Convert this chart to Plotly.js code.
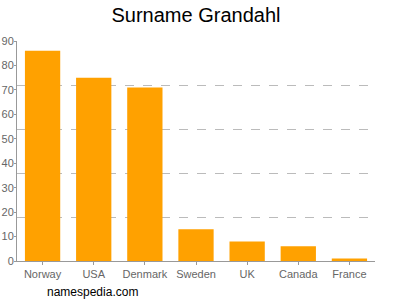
<!DOCTYPE html>
<html><head><meta charset="utf-8">
<script src="https://cdn.plot.ly/plotly-3.0.1.min.js"></script>
<style>body{margin:0;background:#fff}#c{width:400px;height:300px}</style>
</head><body><div id="c"></div>
<script>
const countries = ["Norway","USA","Denmark","Sweden","UK","Canada","France"];
const counts = [86, 75, 71, 13, 8, 6, 1];
const yTicks = [0,10,20,30,40,50,60,70,80,90];
const gridTicks = [18,36,54,72,90];

const traces = [
  {type:'bar', x:countries, y:counts, marker:{color:'#ffa100'}, hoverinfo:'none'},
  {type:'scatter', x:countries, y:counts, yaxis:'y2', mode:'none', hoverinfo:'none', showlegend:false}
];
const layout = {
  width:400, height:300,
  margin:{l:17, r:25, t:41, b:39},
  paper_bgcolor:'#fff', plot_bgcolor:'#fff',
  showlegend:false, bargap:0.31,
  title:{text:'Surname Grandahl', font:{family:'Liberation Sans, Arial, sans-serif', size:20, color:'#000'}, x:0.5, xref:'paper', xanchor:'center', y:0.95, yanchor:'middle'},
  xaxis:{showgrid:false, showline:true, linecolor:'#999', linewidth:1, ticks:'outside', ticklen:3, tickcolor:'#999',
    tickfont:{family:'Liberation Sans, Arial, sans-serif', size:11, color:'#666'}, fixedrange:true},
  yaxis:{range:[0,90], tickvals:yTicks, ticktext:yTicks.map(String), showgrid:false, zeroline:false, showline:true, linecolor:'#999', linewidth:1,
    ticks:'outside', ticklen:2, tickcolor:'#999', ticklabelstandoff:-2, tickfont:{family:'Liberation Sans, Arial, sans-serif', size:11, color:'#666'}, fixedrange:true},
  yaxis2:{range:[0,90], overlaying:'y', tickvals:gridTicks, showticklabels:false, showgrid:true, gridcolor:'#bbb', griddash:'dash', gridwidth:1, zeroline:false, showline:false, ticks:'', fixedrange:true},
  annotations:[{text:'namespedia.com', xref:'paper', yref:'paper', x:0, y:-0.14, xshift:28, showarrow:false, xanchor:'left', yanchor:'middle',
    font:{family:'Liberation Sans, Arial, sans-serif', size:12, color:'#000'}}]
};
Plotly.newPlot('c', traces, layout, {displayModeBar:false, staticPlot:true});
</script></body></html>
